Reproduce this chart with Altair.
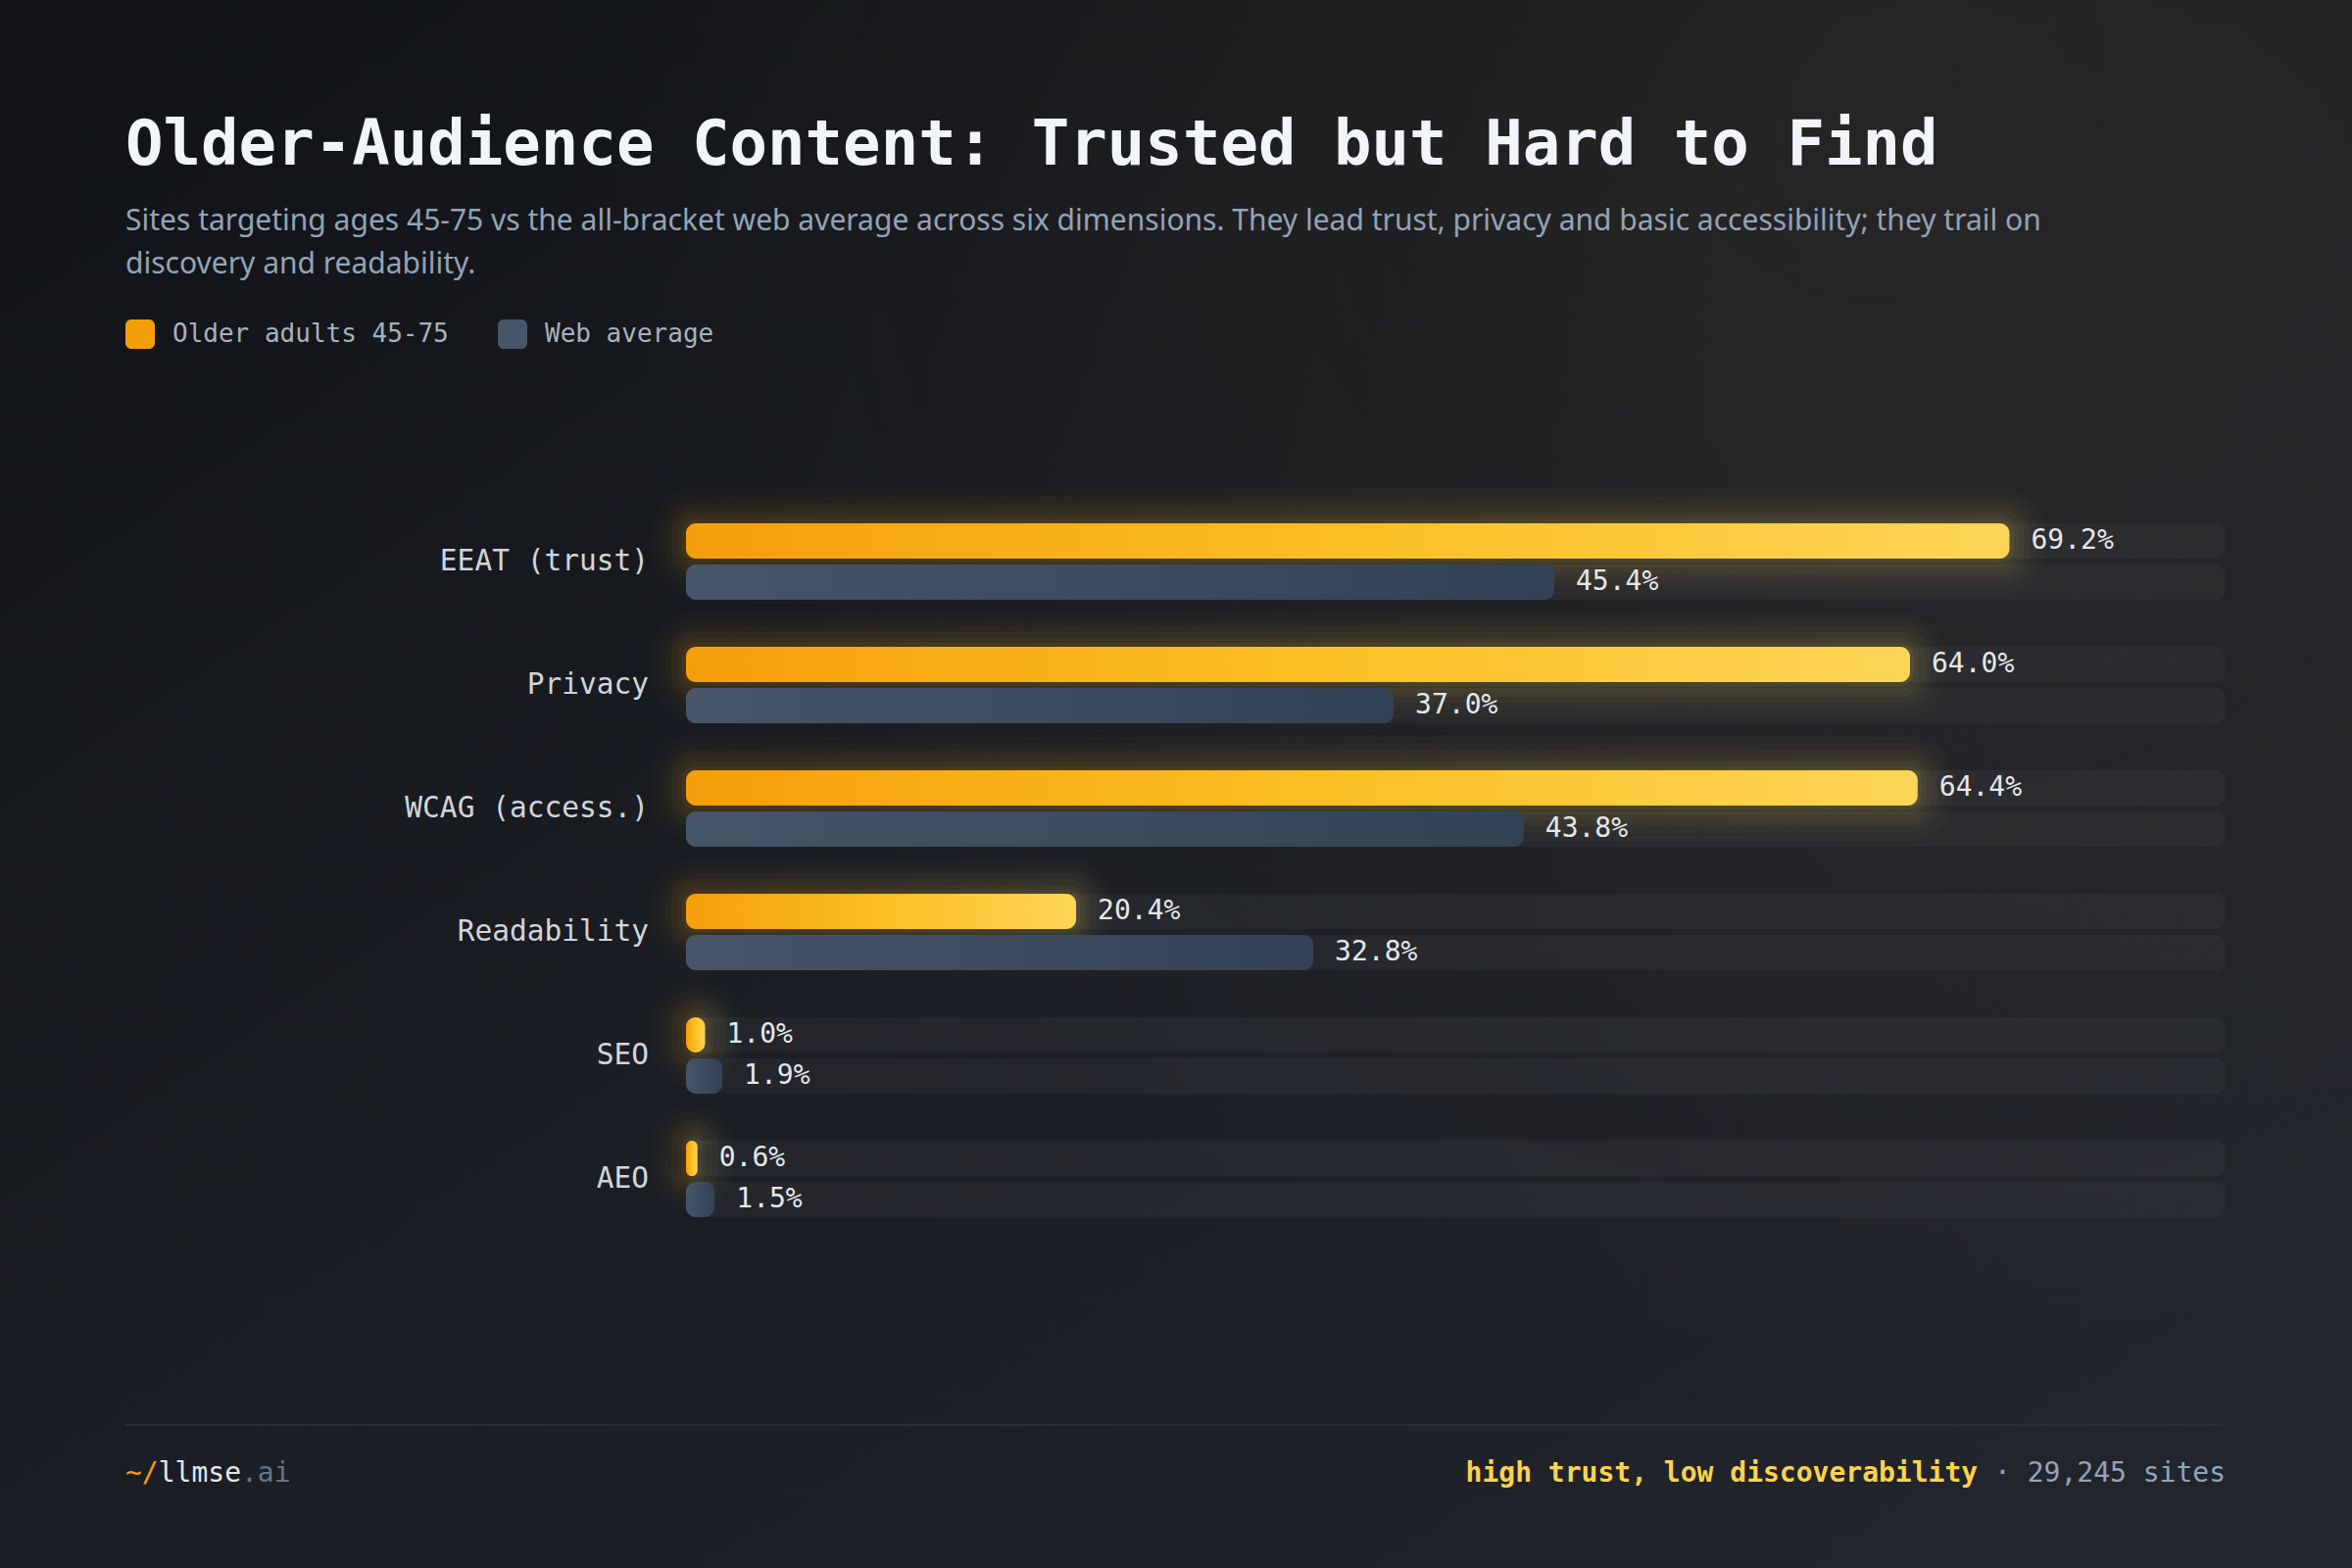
import altair as alt
import pandas as pd

# ---------------- data ----------------
categories = ["EEAT (trust)", "Privacy", "WCAG (access.)", "Readability", "SEO", "AEO"]
older = [69.2, 64.0, 64.4, 20.4, 1.0, 0.6]
web = [45.4, 37.0, 43.8, 32.8, 1.9, 1.5]
series = ["Older adults 45-75", "Web average"]

title_text = "Older-Audience Content: Trusted but Hard to Find"
subtitle_lines = [
    "Sites targeting ages 45-75 vs the all-bracket web average across six dimensions. They lead trust, privacy and basic accessibility; they trail on",
    "discovery and readability.",
]
footer_tag = "high trust, low discoverability"
footer_count = "· 29,245 sites"

rows = []
for c, o, w in zip(categories, older, web):
    rows.append({"category": c, "series": series[0], "value": o, "label": f"{o:.1f}%"})
    rows.append({"category": c, "series": series[1], "value": w, "label": f"{w:.1f}%"})
df = pd.DataFrame(rows)

# ---------------- styling ----------------
MONO = "DejaVu Sans Mono"
SANS = "Noto Sans"
X_MAX = 80.5
W, H = 2400, 1600

xs = alt.Scale(domain=[0, X_MAX], range=[700, 2271])
ys = alt.Scale(domain=categories, range=[510, 1266], paddingInner=0.381, paddingOuter=0.1905)
yo = alt.Scale(domain=series, paddingInner=0.142857, paddingOuter=0)

orange_grad = {
    "gradient": "linear", "x1": 0, "y1": 0, "x2": 1, "y2": 0,
    "stops": [
        {"offset": 0, "color": "#f59e0b"},
        {"offset": 0.5, "color": "#fbbf24"},
        {"offset": 1, "color": "#fdd556"},
    ],
}
gray_grad = {
    "gradient": "linear", "x1": 0, "y1": 0, "x2": 1, "y2": 0,
    "stops": [
        {"offset": 0, "color": "#475569"},
        {"offset": 1, "color": "#334155"},
    ],
}

one = pd.DataFrame({"k": [0]})

# background
bg = alt.Chart(one).mark_rect(
    fill={
        "gradient": "linear", "x1": 0, "y1": 0, "x2": 1, "y2": 1,
        "stops": [
            {"offset": 0, "color": "#101216"},
            {"offset": 0.5, "color": "#1b1e24"},
            {"offset": 1, "color": "#23262d"},
        ],
    }
).encode(x=alt.value(0), x2=alt.value(W), y=alt.value(0), y2=alt.value(H))

bg_warm = alt.Chart(one).mark_rect(
    fill={
        "gradient": "radial", "x1": 0.8, "y1": 0.2, "r1": 0, "x2": 0.8, "y2": 0.2, "r2": 0.55,
        "stops": [
            {"offset": 0, "color": "rgba(150,115,55,0.10)"},
            {"offset": 1, "color": "rgba(150,115,55,0)"},
        ],
    }
).encode(x=alt.value(0), x2=alt.value(W), y=alt.value(0), y2=alt.value(H))

base = alt.Chart(df).encode(
    y=alt.Y("category:N", scale=ys, axis=None),
    yOffset=alt.YOffset("series:N", scale=yo),
)

older_base = base.transform_filter(alt.datum.series == series[0]).transform_calculate(x0="0")
web_base = base.transform_filter(alt.datum.series == series[1]).transform_calculate(x0="0")

glows = []
for sw, op in [(72, 0.018), (56, 0.024), (42, 0.03), (30, 0.036), (18, 0.045), (8, 0.055)]:
    glows.append(
        older_base.mark_rect(
            cornerRadius=10, fillOpacity=0, stroke=orange_grad, strokeWidth=sw, strokeOpacity=op
        ).encode(
            x=alt.X("x0:Q", scale=xs, axis=None),
            x2="value:Q",
        )
    )

tracks = base.transform_calculate(x0="0", xend=str(X_MAX)).mark_rect(
    cornerRadius=10, fill="#ffffff", fillOpacity=0.035
).encode(
    x=alt.X("x0:Q", scale=xs, axis=None),
    x2="xend:Q",
)

bars_older = older_base.mark_rect(cornerRadius=10, fill=orange_grad).encode(
    x=alt.X("x0:Q", scale=xs, axis=None),
    x2="value:Q",
)
bars_web = web_base.mark_rect(cornerRadius=10, fill=gray_grad).encode(
    x=alt.X("x0:Q", scale=xs, axis=None),
    x2="value:Q",
)

value_labels = base.mark_text(
    align="left", baseline="middle", dx=22, font=MONO, fontSize=28, color="#e5e7eb"
).encode(
    x=alt.X("value:Q", scale=xs, axis=None),
    text="label:N",
)

cat_labels = alt.Chart(pd.DataFrame({"category": categories})).mark_text(
    align="right", baseline="middle", font=MONO, fontSize=29.5, color="#d1d5db"
).encode(
    x=alt.value(662),
    y=alt.Y("category:N", scale=ys, axis=None),
    text="category:N",
)


def txt(s, x, y, size, color, font=MONO, weight="normal", align="left", baseline="alphabetic"):
    return alt.Chart(pd.DataFrame({"t": [s]})).mark_text(
        align=align, baseline=baseline, font=font, fontSize=size, color=color, fontWeight=weight
    ).encode(x=alt.value(x), y=alt.value(y), text="t:N")


def box(x, y, w, h, color, r=6):
    return alt.Chart(one).mark_rect(fill=color, cornerRadius=r).encode(
        x=alt.value(x), x2=alt.value(x + w), y=alt.value(y), y2=alt.value(y + h)
    )


title = txt(title_text, 128, 168, 64, "#f1f5f9", weight="bold")
sub1 = txt(subtitle_lines[0], 128, 235, 30, "#94a3b8", font=SANS)
sub2 = txt(subtitle_lines[1], 128, 279, 30, "#94a3b8", font=SANS)

leg_o = box(128, 326, 30, 30, "#f59e0b")
leg_o_t = txt(series[0], 176, 341, 26, "#a8b0bc", baseline="middle")
leg_w = box(508, 326, 30, 30, "#475569")
leg_w_t = txt(series[1], 556, 341, 26, "#a8b0bc", baseline="middle")

footer_rule = alt.Chart(one).mark_rule(stroke="#2a2e38", strokeWidth=2).encode(
    x=alt.value(128), x2=alt.value(2271), y=alt.value(1454)
)
CW = 0.602 * 28
f1 = txt("~/", 128, 1512, 28, "#f59e0b")
f2 = txt("llmse", 128 + 2 * CW, 1512, 28, "#e5e7eb")
f3 = txt(".ai", 128 + 7 * CW, 1512, 28, "#64748b")
f4 = txt(footer_count, 2271, 1512, 28, "#94a3b8", align="right")
f5 = txt(footer_tag, 2271 - (len(footer_count) + 1) * CW, 1512, 28, "#fcd34d", weight="bold", align="right")

chart = alt.layer(
    bg, bg_warm, *glows, tracks, bars_older, bars_web, value_labels, cat_labels,
    title, sub1, sub2, leg_o, leg_o_t, leg_w, leg_w_t, footer_rule, f1, f2, f3, f4, f5,
).properties(
    width=W, height=H, padding=0, autosize=alt.AutoSizeParams(type="none"),
    background="#16181d",
).configure_view(stroke=None)

chart.save("out.html", embed_options={"renderer": "svg", "actions": False})
